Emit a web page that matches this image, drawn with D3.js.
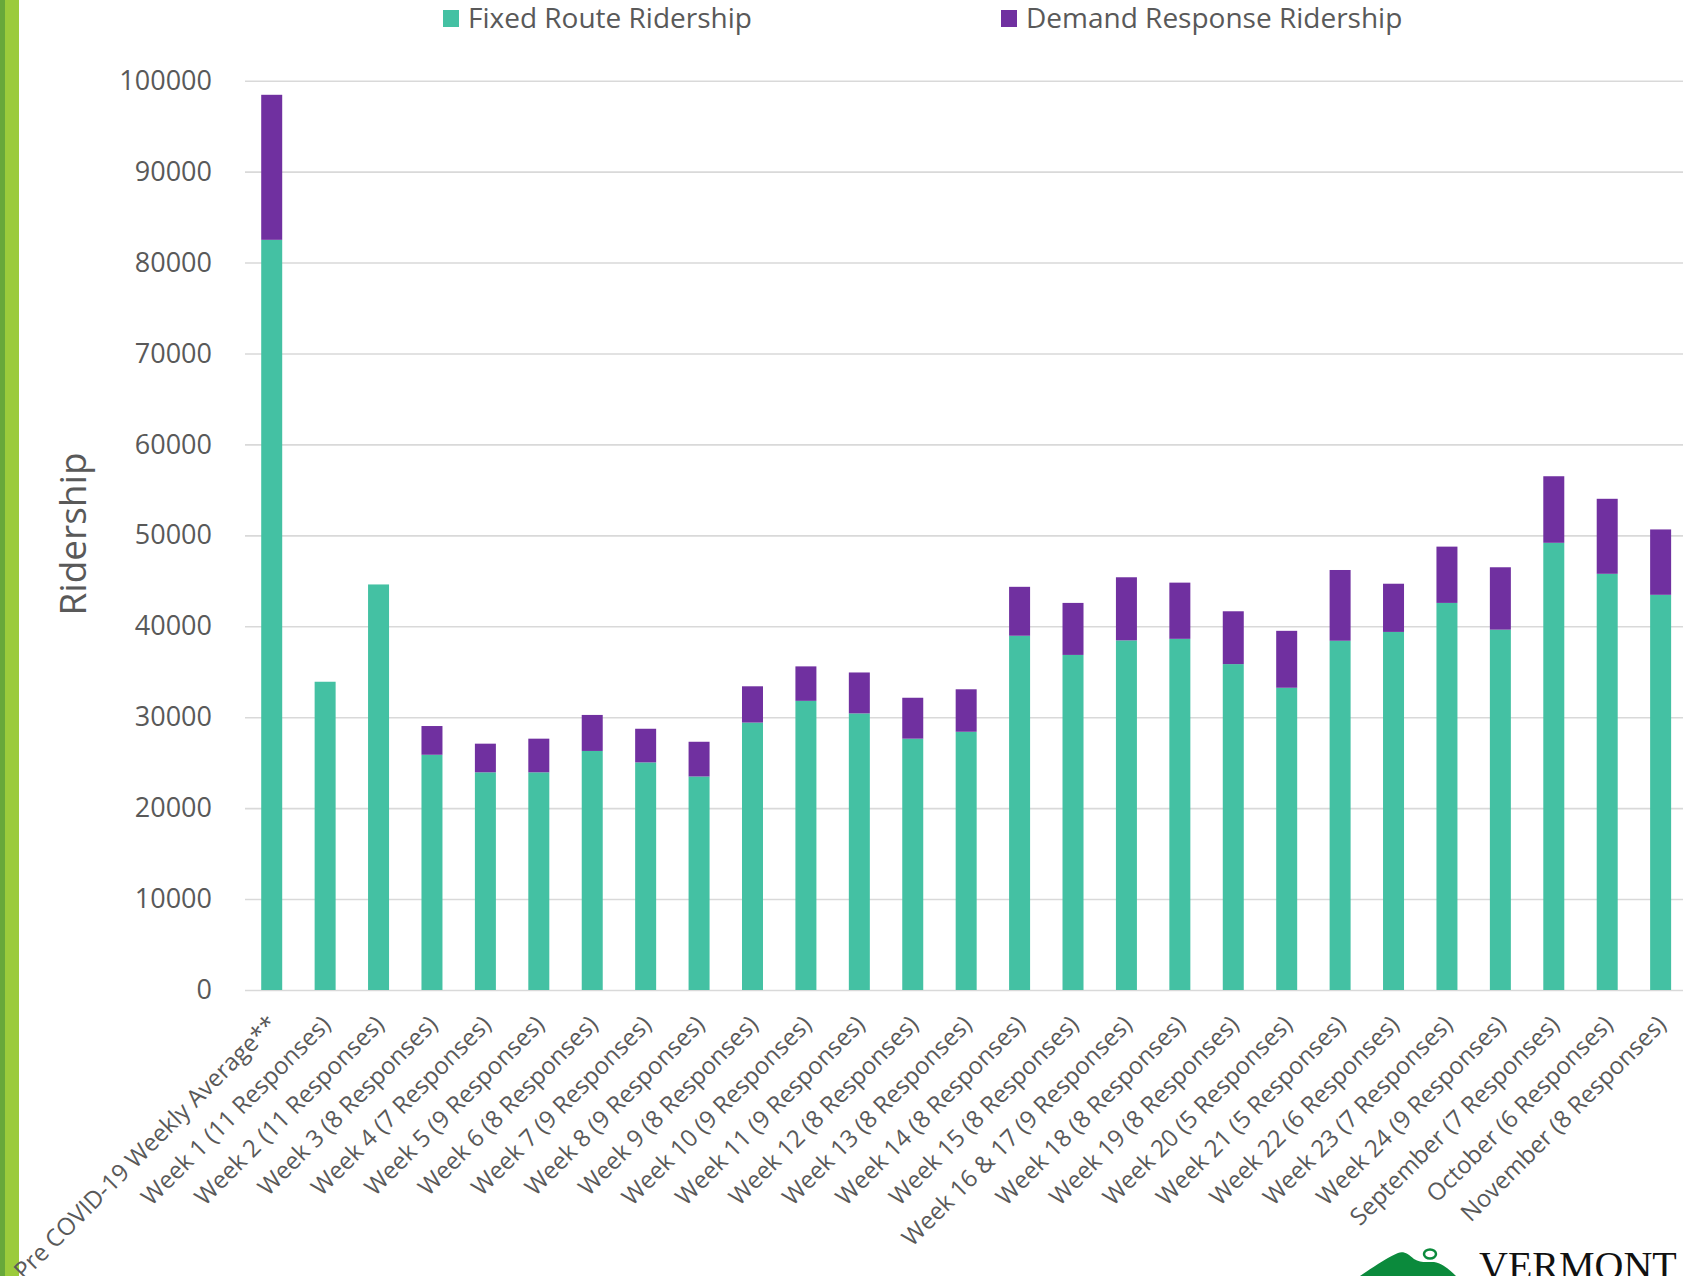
<!DOCTYPE html>
<html>
<head>
<meta charset="utf-8">
<script src="https://cdnjs.cloudflare.com/ajax/libs/d3/7.8.5/d3.min.js"></script>
<style>
  html, body { margin: 0; padding: 0; background: #fff; }
  svg text { font-family: "Open Sans", "Noto Sans", sans-serif; fill: #595959; }
</style>
</head>
<body>
<div id="chart"></div>
<script>
// categories on the x axis
const categories = [
  "Pre COVID-19 Weekly Average**",
  "Week 1 (11 Responses)", "Week 2 (11 Responses)", "Week 3 (8 Responses)",
  "Week 4 (7 Responses)", "Week 5 (9 Responses)", "Week 6 (8 Responses)",
  "Week 7 (9 Responses)", "Week 8 (9 Responses)", "Week 9 (8 Responses)",
  "Week 10 (9 Responses)", "Week 11 (9 Responses)", "Week 12 (8 Responses)",
  "Week 13 (8 Responses)", "Week 14 (8 Responses)", "Week 15 (8 Responses)",
  "Week 16 & 17 (9 Responses)", "Week 18 (8 Responses)", "Week 19 (8 Responses)",
  "Week 20 (5 Responses)", "Week 21 (5 Responses)", "Week 22 (6 Responses)",
  "Week 23 (7 Responses)", "Week 24 (9 Responses)", "September (7 Responses)",
  "October (6 Responses)", "November (8 Responses)"
];

// series values
const fixedRoute = [82500, 33900, 44600, 25870, 23940, 23940, 26290, 25030, 23480, 29410,
  31800, 30420, 27640, 28400, 38960, 36850, 38450, 38620, 35840, 33240,
  38410, 39380, 42570, 39630, 49180, 45770, 43460];
const demandResponse = [15950, 0, 0, 3160, 3150, 3700, 3960, 3700, 3820, 3990,
  3790, 4500, 4500, 4670, 5380, 5720, 6940, 6180, 5810, 6260,
  7780, 5300, 6190, 6860, 7320, 8250, 7190];

const seriesNames = ["Fixed Route Ridership", "Demand Response Ridership"];
const seriesColors = ["#44c1a3", "#7030a0"];
const yTicks = [0, 10000, 20000, 30000, 40000, 50000, 60000, 70000, 80000, 90000, 100000];

const W = 1683, H = 1276;
const plotLeft = 245, plotBottom = 990, plotTop = 80.7;
const step = 53.42;

const svg = d3.select("#chart").append("svg")
  .attr("width", W)
  .attr("height", H);

svg.append("rect").attr("width", W).attr("height", H).attr("fill", "#fff");

// green stripe on the left edge
svg.append("rect").attr("x", 0).attr("y", 0).attr("width", 5).attr("height", H).attr("fill", "#68a83a");
svg.append("rect").attr("x", 5).attr("y", 0).attr("width", 14).attr("height", H).attr("fill", "#9bcb3b");

const x = d3.scaleBand()
  .domain(categories)
  .range([plotLeft, plotLeft + step * categories.length])
  .paddingInner(0.607)
  .paddingOuter(0.3035);

const y = d3.scaleLinear()
  .domain([0, 100000])
  .range([plotBottom, plotTop]);

// gridlines + y labels
const yAxis = svg.append("g")
  .attr("transform", `translate(${plotLeft},0)`)
  .call(d3.axisLeft(y).tickValues(yTicks).tickSize(-(W - plotLeft)).tickPadding(33).tickFormat(d3.format("d")));
yAxis.select(".domain").remove();
yAxis.selectAll(".tick line").attr("stroke", "#d9d9d9").attr("stroke-width", 1.6);
yAxis.selectAll(".tick text")
  .style("font-size", "27px")
  .attr("fill", "#595959");

// stacked bars
const rows = categories.map((c, i) => ({ cat: c, fixed: fixedRoute[i], demand: demandResponse[i] }));
const stack = d3.stack().keys(["fixed", "demand"]);
const layers = stack(rows);

svg.append("g").selectAll("g")
  .data(layers)
  .join("g")
  .attr("fill", (d, i) => seriesColors[i])
  .selectAll("rect")
  .data(d => d)
  .join("rect")
  .attr("x", d => x(d.data.cat))
  .attr("width", x.bandwidth())
  .attr("y", d => y(d[1]))
  .attr("height", d => y(d[0]) - y(d[1]));

// x labels
const xAxis = svg.append("g")
  .attr("transform", `translate(0,${plotBottom})`)
  .call(d3.axisBottom(x).tickSize(0));
xAxis.select(".domain").remove();
xAxis.selectAll(".tick text")
  .attr("text-anchor", "end")
  .attr("y", 0)
  .attr("dy", 0)
  .attr("transform", "translate(7,36) rotate(-45)")
  .style("font-size", "24px")
  .attr("fill", "#595959");

// y title
svg.append("text")
  .attr("transform", "translate(86,534) rotate(-90)")
  .attr("text-anchor", "middle")
  .style("font-size", "37px")
  .text("Ridership");

// legend
const legendX = [443, 1001];
const legend = svg.append("g").selectAll("g")
  .data(seriesNames)
  .join("g")
  .attr("transform", (d, i) => `translate(${legendX[i]},0)`);
legend.append("rect")
  .attr("x", 0).attr("y", 10)
  .attr("width", 16).attr("height", 17)
  .attr("fill", (d, i) => seriesColors[i]);
legend.append("text")
  .attr("x", 25).attr("y", 28)
  .style("font-size", "28px")
  .text(d => d);

// logo in the corner (partly cut off)
const logo = svg.append("g");
logo.append("path")
  .attr("d", "M1360,1276 C1372,1268 1386,1258 1398,1253 C1404,1251 1408,1254 1414,1259 C1420,1263 1426,1262 1434,1262 C1442,1263 1450,1270 1456,1276 Z")
  .attr("fill", "#0b8a3c");
logo.append("ellipse")
  .attr("cx", 1430).attr("cy", 1254).attr("rx", 6).attr("ry", 4.5)
  .attr("fill", "none").attr("stroke", "#0b8a3c").attr("stroke-width", 2.5);
logo.append("text")
  .attr("x", 1479).attr("y", 1279)
  .style("font-family", "'Liberation Serif', 'DejaVu Serif', serif")
  .style("font-size", "40px")
  .style("fill", "#111")
  .text("VERMONT");
</script>
</body>
</html>
